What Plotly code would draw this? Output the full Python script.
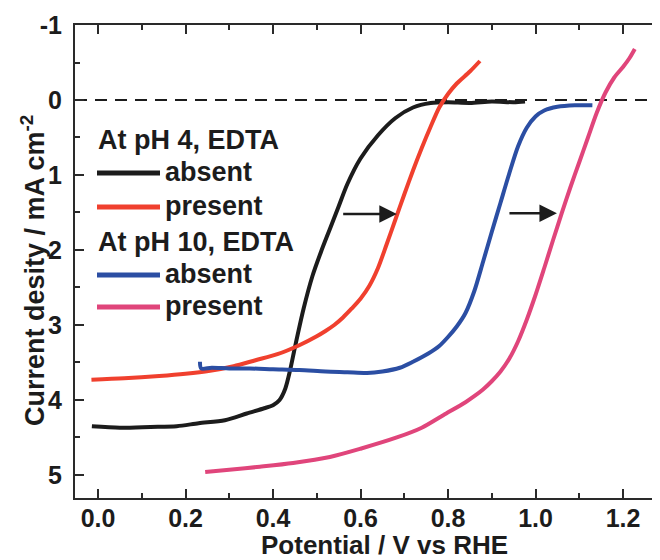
import plotly.graph_objects as go

# ---------------- data ----------------
ph4_absent_x = [-0.014, 0.05, 0.12, 0.18, 0.23, 0.29, 0.34, 0.38, 0.40, 0.415, 0.428, 0.44, 0.45,
                0.47, 0.49, 0.51, 0.53, 0.55, 0.57, 0.60, 0.64, 0.68, 0.72, 0.76, 0.80,
                0.85, 0.90, 0.95, 0.976]
ph4_absent_y = [4.35, 4.37, 4.36, 4.35, 4.31, 4.27, 4.18, 4.11, 4.07, 4.00, 3.85, 3.58, 3.30,
                2.78, 2.35, 2.02, 1.72, 1.42, 1.12, 0.78, 0.47, 0.24, 0.10, 0.04, 0.03,
                0.04, 0.02, 0.03, 0.02]

ph4_present_x = [-0.015, 0.06, 0.14, 0.20, 0.256, 0.31, 0.36, 0.41, 0.46, 0.50, 0.52, 0.54,
                 0.56, 0.58, 0.60, 0.62, 0.64, 0.66, 0.68, 0.70, 0.72, 0.74, 0.76, 0.78,
                 0.80, 0.82, 0.85, 0.873]
ph4_present_y = [3.73, 3.71, 3.68, 3.65, 3.61, 3.55, 3.47, 3.39, 3.27, 3.15, 3.08, 3.00,
                 2.90, 2.78, 2.65, 2.48, 2.24, 1.92, 1.59, 1.26, 0.94, 0.64, 0.36, 0.10,
                 -0.08, -0.22, -0.38, -0.52]

ph10_absent_x = [0.233, 0.236, 0.26, 0.30, 0.347, 0.40, 0.46, 0.52, 0.57, 0.615, 0.65, 0.69,
                 0.72, 0.755, 0.78, 0.80, 0.82, 0.84, 0.86, 0.88, 0.90, 0.92, 0.94, 0.96,
                 0.98, 1.00, 1.02, 1.05, 1.09, 1.13]
ph10_absent_y = [3.49, 3.58, 3.57, 3.58, 3.58, 3.59, 3.60, 3.62, 3.63, 3.64, 3.62, 3.57,
                 3.49, 3.38, 3.28, 3.16, 3.02, 2.84, 2.55, 2.16, 1.76, 1.37, 0.98, 0.62,
                 0.37, 0.22, 0.14, 0.09, 0.07, 0.07]

ph10_present_x = [0.245, 0.30, 0.37, 0.446, 0.53, 0.60, 0.683, 0.74, 0.79, 0.84, 0.86, 0.88,
                  0.90, 0.92, 0.94, 0.96, 0.98, 1.00, 1.02, 1.04, 1.06, 1.08, 1.10, 1.12,
                  1.14, 1.16, 1.18, 1.20, 1.215, 1.227]
ph10_present_y = [4.96, 4.93, 4.89, 4.84, 4.76, 4.65, 4.50, 4.37, 4.20, 4.03, 3.95, 3.86,
                  3.75, 3.62, 3.45, 3.22, 2.93, 2.60, 2.24, 1.87, 1.51, 1.16, 0.83, 0.50,
                  0.17, -0.10, -0.30, -0.44, -0.56, -0.68]

x_ticks = [0.0, 0.2, 0.4, 0.6, 0.8, 1.0, 1.2]
x_tick_labels = ["0.0", "0.2", "0.4", "0.6", "0.8", "1.0", "1.2"]
y_ticks = [-1, 0, 1, 2, 3, 4, 5]
y_tick_labels = ["-1", "0", "1", "2", "3", "4", "5"]

# arrows: (start x, end x, y)
arrow_pairs = [(0.557, 0.683, 1.52), (0.937, 1.049, 1.51)]

# ---------------- styling ----------------
W, H = 660, 560
OFF = 8  # page body margin offset
ML, MR, MT, MB = 67, 7, 17, 70
PW, PH = W - ML - MR, H - MT - MB
FONT = "Liberation Sans, Arial, sans-serif"
AXC = "#2a2a2a"
TXT = "#1c1c1c"

colors = {"k": "#1c1c1c", "r": "#f0402e", "b": "#2b4ea3", "p": "#e0457b"}


def px(xp):
    return (xp - OFF - ML) / PW


def py(yp):
    return (H - MB - (yp - OFF)) / PH


fig = go.Figure()
series = [
    (ph4_absent_x, ph4_absent_y, colors["k"]),
    (ph4_present_x, ph4_present_y, colors["r"]),
    (ph10_absent_x, ph10_absent_y, colors["b"]),
    (ph10_present_x, ph10_present_y, colors["p"]),
]
for xs, ys, c in series:
    fig.add_trace(go.Scatter(x=xs, y=ys, mode="lines",
                             line=dict(color=c, width=4, shape="spline", smoothing=0.8),
                             showlegend=False, hoverinfo="skip"))

shapes = [
    dict(type="line", xref="paper", yref="y", x0=0, x1=1, y0=0, y1=0,
         line=dict(color=TXT, width=2, dash="12px,8px"), layer="below"),
]

# legend drawn manually
leg_items = [
    ("header", "At pH 4, EDTA", 140, None),
    ("item", "absent", 173, colors["k"]),
    ("item", "present", 207, colors["r"]),
    ("header", "At pH 10, EDTA", 242, None),
    ("item", "absent", 275, colors["b"]),
    ("item", "present", 307, colors["p"]),
]
LEG_SIZE = 27
annotations = []
for kind, text, yp, c in leg_items:
    if kind == "header":
        annotations.append(dict(x=px(96), y=py(yp), xref="paper", yref="paper", text=text,
                                showarrow=False, xanchor="left", yanchor="middle",
                                font=dict(family=FONT, size=LEG_SIZE, color=TXT, weight="bold")))
    else:
        shapes.append(dict(type="line", xref="paper", yref="paper", x0=px(97), x1=px(160),
                           y0=py(yp), y1=py(yp), line=dict(color=c, width=5)))
        annotations.append(dict(x=px(163), y=py(yp - 1), xref="paper", yref="paper", text=text,
                                showarrow=False, xanchor="left", yanchor="middle",
                                font=dict(family=FONT, size=LEG_SIZE, color=TXT, weight="bold")))

for x0, x1, yv in arrow_pairs:
    annotations.append(dict(x=x1, y=yv, ax=x0, ay=yv, xref="x", yref="y", axref="x", ayref="y",
                            showarrow=True, arrowhead=2, arrowsize=1.4, arrowwidth=2.5,
                            arrowcolor=TXT, text=""))

annotations.append(dict(x=px(384), y=py(545), xref="paper", yref="paper",
                        text="Potential / V vs RHE", showarrow=False,
                        xanchor="center", yanchor="middle",
                        font=dict(family=FONT, size=26, color=TXT, weight="bold")))
annotations.append(dict(x=px(33), y=py(271), xref="paper", yref="paper",
                        text="Current desity / mA cm<sup>-2</sup>", showarrow=False,
                        textangle=-90, xanchor="center", yanchor="middle",
                        font=dict(family=FONT, size=27, color=TXT, weight="bold")))

axis_common = dict(showline=True, linecolor=AXC, linewidth=2, mirror="allticks",
                   ticks="inside", ticklen=9, tickwidth=2, tickcolor=AXC,
                   showgrid=False, zeroline=False, automargin=False,
                   tickfont=dict(family=FONT, size=25, color=TXT, weight="bold"))

fig.update_layout(
    width=W, height=H,
    margin=dict(l=ML, r=MR, t=MT, b=MB, pad=0, autoexpand=False),
    paper_bgcolor="white", plot_bgcolor="white",
    xaxis=dict(range=[(75 - 98) / 437.5, (661 - 98) / 437.5],
               tickvals=x_ticks, ticktext=x_tick_labels, ticklabelstandoff=-3,
               minor=dict(dtick=0.1, tick0=0, ticks="inside", ticklen=5, tickwidth=2, tickcolor=AXC),
               **axis_common),
    yaxis=dict(range=[5.307, -1.0],
               tickvals=y_ticks, ticktext=y_tick_labels, ticklabelstandoff=6,
               minor=dict(dtick=0.5, tick0=0, ticks="inside", ticklen=5, tickwidth=2, tickcolor=AXC),
               **axis_common),
    shapes=shapes,
    annotations=annotations,
    showlegend=False,
)

fig.write_html("out.html")
